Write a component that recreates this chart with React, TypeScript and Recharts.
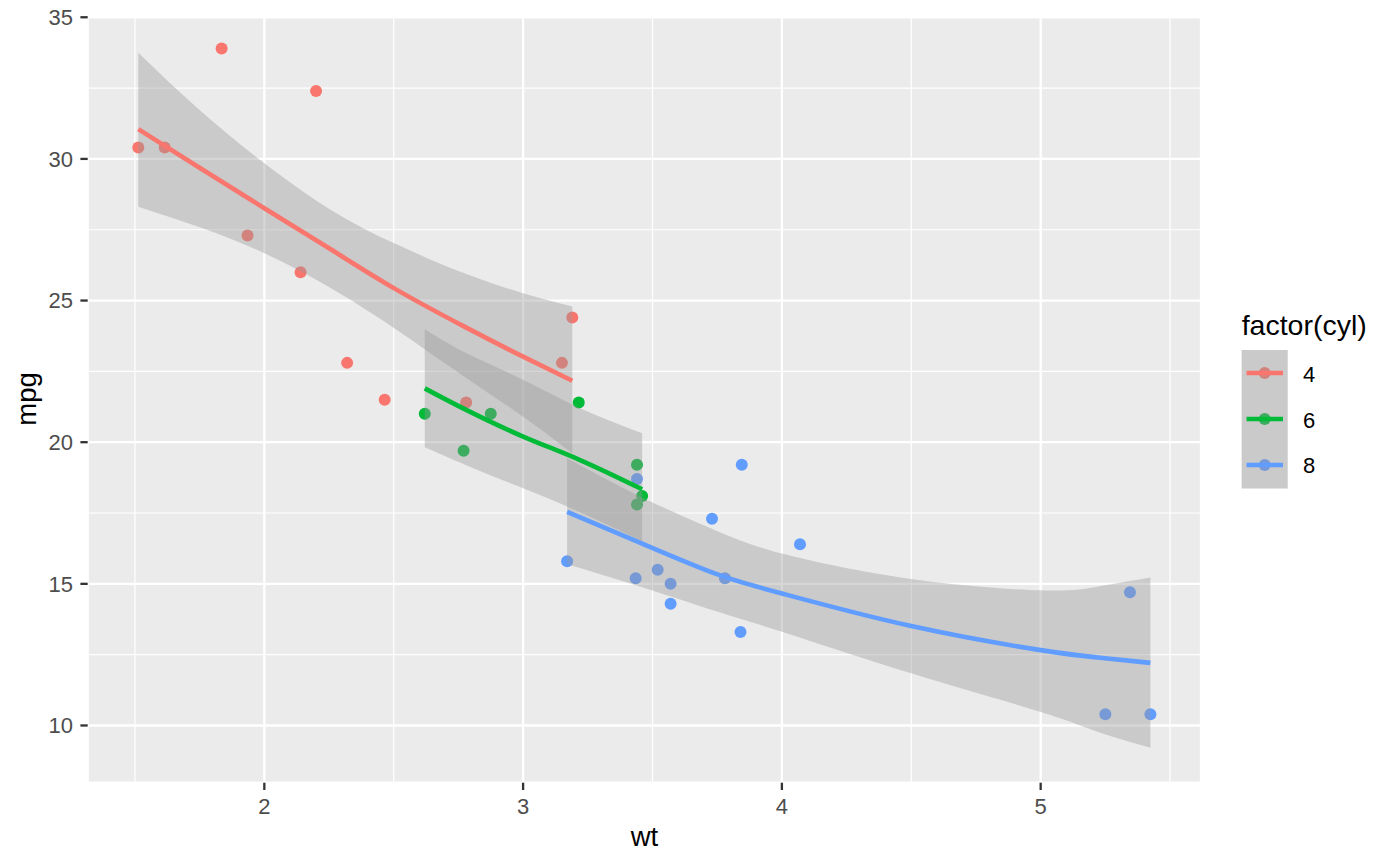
import React from 'react';
import {
  ComposedChart,
  Scatter,
  Line,
  Area,
  XAxis,
  YAxis,
  CartesianGrid,
} from 'recharts';

// ---- raw points (mtcars: wt, mpg by cylinder) ----
const wt4 = [2.32, 3.19, 3.15, 2.2, 1.615, 1.835, 2.465, 1.935, 2.14, 1.513, 2.78];
const mpg4 = [22.8, 24.4, 22.8, 32.4, 30.4, 33.9, 21.5, 27.3, 26.0, 30.4, 21.4];
const wt6 = [2.62, 2.875, 3.215, 3.46, 3.44, 3.44, 2.77];
const mpg6 = [21.0, 21.0, 21.4, 18.1, 19.2, 17.8, 19.7];
const wt8 = [3.44, 3.57, 4.07, 3.73, 3.78, 5.25, 5.424, 5.345, 3.52, 3.435, 3.84, 3.845, 3.17, 3.57];
const mpg8 = [18.7, 14.3, 16.4, 17.3, 15.2, 10.4, 10.4, 14.7, 15.5, 15.2, 13.3, 19.2, 15.8, 15.0];

// ---- smooth fits ----
const fitX4 = [1.513, 1.742, 2.0, 2.258, 2.502, 2.773, 3.0, 3.19];
const fitY4 = [31.05, 29.73, 28.26, 26.8, 25.43, 24.08, 23.02, 22.17];
const fitHi4 = [33.75, 31.79, 29.85, 28.2, 27.02, 25.96, 25.26, 24.79];
const fitLo4 = [28.31, 27.61, 26.67, 25.43, 24.02, 22.31, 20.9, 19.61];

const fitX6 = [2.62, 2.78, 3.0, 3.22, 3.46];
const fitY6 = [21.9, 21.14, 20.2, 19.37, 18.34];
const fitHi6 = [23.99, 23.15, 22.2, 21.2, 20.32];
const fitLo6 = [19.82, 19.19, 18.37, 17.53, 16.5];

const fitX8 = [3.17, 3.46, 3.74, 4.0, 4.5, 5.0, 5.22, 5.424];
const fitY8 = [17.54, 16.42, 15.37, 14.66, 13.51, 12.66, 12.4, 12.21];
const fitHi8 = [19.43, 18.05, 16.9, 16.07, 15.17, 14.77, 14.9, 15.22];
const fitLo8 = [15.69, 14.88, 14.05, 13.31, 11.84, 10.48, 9.78, 9.21];

// ---- axes ----
const xTicks = [2, 3, 4, 5];
const yTicks = [10, 15, 20, 25, 30, 35];
const xMinor = [1.5, 2.5, 3.5, 4.5, 5.5];
const yMinor = [12.5, 17.5, 22.5, 27.5, 32.5];
const xDomain: [number, number] = [1.31745, 5.61955];
const yDomain: [number, number] = [7.98, 35.08];

const groups = ['4', '6', '8'];
const colors = ['#F8766D', '#00BA38', '#619CFF'];

const toPoints = (xs: number[], ys: number[]) => xs.map((x, i) => ({ x, y: ys[i] }));
const toFit = (xs: number[], ys: number[], lo: number[], hi: number[]) =>
  xs.map((x, i) => ({ x, fit: ys[i], band: [lo[i], hi[i]] }));

const points = [toPoints(wt4, mpg4), toPoints(wt6, mpg6), toPoints(wt8, mpg8)];
const fits = [
  toFit(fitX4, fitY4, fitLo4, fitHi4),
  toFit(fitX6, fitY6, fitLo6, fitHi6),
  toFit(fitX8, fitY8, fitLo8, fitHi8),
];

const FONT = '"Liberation Sans", Arial, Helvetica, sans-serif';
const RIBBON = '#999999';
const W = 1400;
const H = 866;
const MARGIN = { top: 15, right: 199, bottom: 0, left: 0 };
const PT_R = 6;
const LINE_W = 4.6;

const dotShape = (color: string) => (props: any) => (
  <circle cx={props.cx} cy={props.cy} r={PT_R} fill={color} />
);

const layer: React.CSSProperties = { position: 'absolute', left: 0, top: 0 };

export default function App() {
  const tickStyle = { fill: '#4D4D4D', fontSize: 22, fontFamily: FONT };
  const tickLine = { stroke: '#333333', strokeWidth: 2.3 };
  const axes = (show: boolean) => [
    <XAxis
      key="xa"
      type="number"
      dataKey="x"
      domain={xDomain}
      allowDataOverflow
      ticks={xTicks}
      interval={0}
      axisLine={false}
      tickLine={show ? tickLine : false}
      tickSize={7.3}
      tickMargin={8}
      tick={show ? tickStyle : false}
      height={83.3}
    />,
    <YAxis
      key="ya"
      type="number"
      dataKey="y"
      domain={yDomain}
      allowDataOverflow
      ticks={yTicks}
      interval={0}
      axisLine={false}
      tickLine={show ? tickLine : false}
      tickSize={7.3}
      tickMargin={7.5}
      tick={show ? tickStyle : false}
      width={87.7}
    />,
  ];
  return (
    <div style={{ position: 'absolute', left: 0, top: 0, width: W, height: H, background: '#ffffff' }}>
      {/* bottom layer: panel, grid, axes and points */}
      <div style={layer}>
        <ComposedChart width={W} height={H} margin={MARGIN} style={{ fontFamily: FONT }}>
          <CartesianGrid
            fill="#EBEBEB"
            stroke="#FFFFFF"
            strokeWidth={1.2}
            horizontalValues={yMinor}
            verticalValues={xMinor}
          />
          <CartesianGrid stroke="#FFFFFF" strokeWidth={2.3} />
          {axes(true)}
          {points.map((d, i) => (
            <Scatter
              key={'pt' + i}
              name={groups[i]}
              data={d}
              fill={colors[i]}
              shape={dotShape(colors[i])}
              isAnimationActive={false}
            />
          ))}
        </ComposedChart>
      </div>
      {/* top layer: confidence ribbons and smooth lines drawn over the points */}
      <div style={layer}>
        <ComposedChart width={W} height={H} margin={MARGIN} style={{ fontFamily: FONT }}>
          {axes(false)}
          {fits.flatMap((d, i) => [
            <Area
              key={'band' + i}
              data={d}
              dataKey="band"
              type="natural"
              stroke="none"
              fill={RIBBON}
              fillOpacity={0.4}
              isAnimationActive={false}
              activeDot={false}
              dot={false}
            />,
            <Line
              key={'fit' + i}
              data={d}
              dataKey="fit"
              type="natural"
              stroke={colors[i]}
              strokeWidth={LINE_W}
              dot={false}
              activeDot={false}
              isAnimationActive={false}
            />,
          ])}
        </ComposedChart>
      </div>
      <svg width={W} height={H} style={{ ...layer, pointerEvents: 'none' }}>
        <text
          transform="translate(35.9,399) rotate(-90)"
          textAnchor="middle"
          fontSize={27.5}
          fontFamily={FONT}
          fill="#000000"
        >
          mpg
        </text>
        <text x={644.4} y={846} textAnchor="middle" fontSize={27.5} fontFamily={FONT} fill="#000000">
          wt
        </text>
        <text x={1241.7} y={335} fontSize={28.5} fontFamily={FONT} fill="#000000">
          factor(cyl)
        </text>
        <rect x={1241.7} y={350} width={46} height={138.5} fill="#EBEBEB" />
        {groups.map((g, i) => (
          <circle key={'kp' + g} cx={1264.7} cy={373 + i * 46} r={PT_R} fill={colors[i]} />
        ))}
        <rect x={1241.7} y={350} width={46} height={138.5} fill={RIBBON} fillOpacity={0.4} />
        {groups.map((g, i) => (
          <g key={'k' + g}>
            <line
              x1={1246.5}
              x2={1283}
              y1={373 + i * 46}
              y2={373 + i * 46}
              stroke={colors[i]}
              strokeWidth={LINE_W}
            />
            <text x={1303} y={382.3 + i * 45.5} fontSize={22} fontFamily={FONT} fill="#000000">
              {g}
            </text>
          </g>
        ))}
      </svg>
    </div>
  );
}
